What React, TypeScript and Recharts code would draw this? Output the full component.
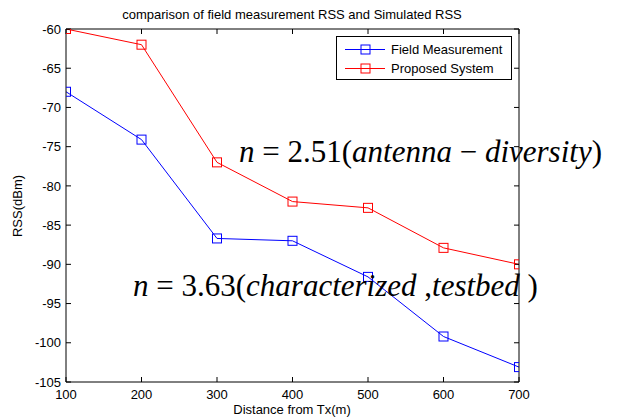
import React from 'react';
import { LineChart, Line, XAxis, YAxis, Legend } from 'recharts';

const distances = [100, 200, 300, 400, 500, 600, 700];
const fieldMeasurement = [-68, -74.1, -86.7, -87, -91.6, -99.2, -103.1];
const proposedSystem = [-60, -62, -77, -82, -82.8, -87.9, -90];
const xTicks = [100, 200, 300, 400, 500, 600, 700];
const yTicks = [-105, -100, -95, -90, -85, -80, -75, -70, -65, -60];
const seriesNames = ['Field Measurement', 'Proposed System'];
const seriesColors = ['#0000ff', '#ff0000'];

const data = distances.map((d, i) => ({
  d,
  field: fieldMeasurement[i],
  proposed: proposedSystem[i],
}));

const FONT = 'Arial, "Liberation Sans", Helvetica, sans-serif';
const SERIF = '"Liberation Serif", "Times New Roman", Times, serif';

const makeSquare = (color: string) => (props: any) => {
  const { cx, cy, index } = props;
  if (cx == null || cy == null) return <g key={index} />;
  return (
    <rect key={index} x={cx - 4.5} y={cy - 4.5} width={9} height={9} fill="none" stroke={color} strokeWidth={1} />
  );
};

const NoTick = () => <g />;

const LegendBox = () => (
  <div
    style={{
      width: 176,
      height: 44,
      border: '1px solid #000',
      background: '#fff',
      boxSizing: 'border-box',
      fontFamily: FONT,
      fontSize: 13,
      color: '#000',
      paddingTop: 3,
    }}
  >
    {seriesNames.map((name, i) => (
      <div key={name} style={{ display: 'flex', alignItems: 'center', height: 19 }}>
        <svg width={50} height={19} style={{ display: 'block' }}>
          <line x1={8} x2={48} y1={9.5} y2={9.5} stroke={seriesColors[i]} strokeWidth={1} />
          <rect x={24} y={5} width={9} height={9} fill="none" stroke={seriesColors[i]} strokeWidth={1} />
        </svg>
        <span style={{ marginLeft: 4, whiteSpace: 'nowrap' }}>{name}</span>
      </div>
    ))}
  </div>
);

export default function App() {
  const tickStyle = { fontSize: 13, fontFamily: FONT, fill: '#000' };
  return (
    <div style={{ position: 'absolute', left: 0, top: 0, width: 622, height: 419, background: '#fff' }}>
      <LineChart width={622} height={419} data={data} margin={{ top: 28, right: 102, bottom: 7, left: 6 }}>
        <XAxis
          xAxisId="b"
          dataKey="d"
          type="number"
          domain={[100, 700]}
          ticks={xTicks}
          allowDataOverflow
          height={30}
          tickSize={-5}
          tickMargin={13}
          tick={tickStyle}
          axisLine={{ stroke: '#000', strokeWidth: 1 }}
          tickLine={{ stroke: '#000', strokeWidth: 1 }}
        />
        <XAxis
          xAxisId="t"
          dataKey="d"
          type="number"
          orientation="top"
          domain={[100, 700]}
          ticks={xTicks}
          allowDataOverflow
          height={1}
          tickSize={-5}
          tick={<NoTick />}
          axisLine={{ stroke: '#000', strokeWidth: 1 }}
          tickLine={{ stroke: '#000', strokeWidth: 1 }}
        />
        <YAxis
          yAxisId="l"
          type="number"
          domain={[-105, -60]}
          ticks={yTicks}
          allowDataOverflow
          width={60}
          tickSize={-5}
          tickMargin={10}
          tick={tickStyle}
          axisLine={{ stroke: '#000', strokeWidth: 1 }}
          tickLine={{ stroke: '#000', strokeWidth: 1 }}
        />
        <YAxis
          yAxisId="r"
          type="number"
          orientation="right"
          domain={[-105, -60]}
          ticks={yTicks}
          allowDataOverflow
          width={1}
          tickSize={-5}
          tick={<NoTick />}
          axisLine={{ stroke: '#000', strokeWidth: 1 }}
          tickLine={{ stroke: '#000', strokeWidth: 1 }}
        />
        <Legend
          layout="vertical"
          align="center"
          verticalAlign="middle"
          content={<LegendBox />}
          wrapperStyle={{ left: 336, top: 36, width: 176, height: 44 }}
        />
        <Line
          xAxisId="b"
          yAxisId="l"
          dataKey="field"
          name={seriesNames[0]}
          stroke={seriesColors[0]}
          strokeWidth={1}
          dot={makeSquare(seriesColors[0])}
          activeDot={false}
          isAnimationActive={false}
        />
        <Line
          xAxisId="b"
          yAxisId="l"
          dataKey="proposed"
          name={seriesNames[1]}
          stroke={seriesColors[1]}
          strokeWidth={1}
          dot={makeSquare(seriesColors[1])}
          activeDot={false}
          isAnimationActive={false}
        />
      </LineChart>
      <svg
        width={622}
        height={419}
        style={{ position: 'absolute', left: 0, top: 0, pointerEvents: 'none' }}
      >
        <text x={292} y={19} textAnchor="middle" fontFamily={FONT} fontSize={13} fill="#000">
          comparison of field measurement RSS and Simulated RSS
        </text>
        <text x={292} y={414} textAnchor="middle" fontFamily={FONT} fontSize={13} fill="#000">
          Distance from Tx(m)
        </text>
        <text
          x={22}
          y={206}
          textAnchor="middle"
          fontFamily={FONT}
          fontSize={13}
          fill="#000"
          transform="rotate(-90 22 206)"
        >
          RSS(dBm)
        </text>
        <text x={239} y={162} style={{ fontFamily: SERIF }} fontSize={31} fill="#000">
          <tspan fontStyle="italic">n</tspan>
          <tspan> = 2.51(</tspan>
          <tspan fontStyle="italic">antenna</tspan>
          <tspan> − </tspan>
          <tspan fontStyle="italic">diversity</tspan>
          <tspan>)</tspan>
        </text>
        <text x={133} y={296} style={{ fontFamily: SERIF }} fontSize={31} fill="#000">
          <tspan fontStyle="italic">n</tspan>
          <tspan> = 3.63(</tspan>
          <tspan fontStyle="italic">characterized</tspan>
          <tspan> ,</tspan>
          <tspan fontStyle="italic">testbed</tspan>
          <tspan> )</tspan>
        </text>
      </svg>
    </div>
  );
}
